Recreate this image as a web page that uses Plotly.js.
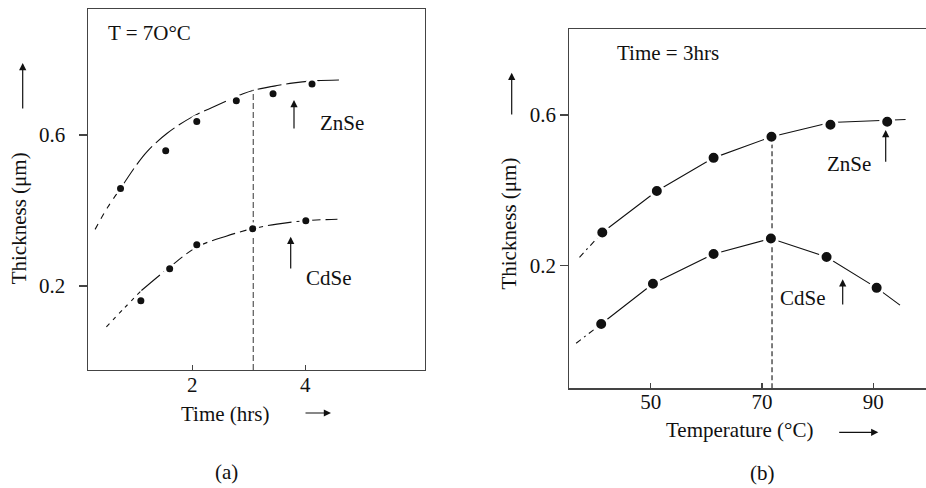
<!DOCTYPE html>
<html>
<head>
<meta charset="utf-8">
<script src="https://cdn.plot.ly/plotly-3.0.1.min.js"></script>
<style>html,body{margin:0;padding:0;background:#fff;}#chart{width:926px;height:488px;}</style>
</head>
<body>
<div id="chart"></div>
<script>
// ---------- Panel (a): thickness vs time at T = 70 °C ----------
const a_time_zn = [0.73, 1.53, 2.08, 2.78, 3.43, 4.12];
const a_thick_zn = [0.458, 0.558, 0.636, 0.691, 0.709, 0.735];
const a_time_cd = [1.09, 1.60, 2.08, 3.07, 4.01];
const a_thick_cd = [0.161, 0.246, 0.309, 0.352, 0.373];

// drawn trend curves
const a_fit_zn_ext_x = [0.28, 0.50, 0.73];
const a_fit_zn_ext_y = [0.350, 0.408, 0.458];
const a_fit_zn_x = [0.73, 1.0, 1.2, 1.55, 2.0, 2.4, 2.9, 3.1, 3.5, 3.8, 4.2, 4.65];
const a_fit_zn_y = [0.458, 0.518, 0.556, 0.604, 0.648, 0.676, 0.709, 0.719, 0.731, 0.738, 0.744, 0.746];
const a_fit_cd_ext_x = [0.48, 0.80, 1.10];
const a_fit_cd_ext_y = [0.092, 0.142, 0.188];
const a_fit_cd_x = [1.10, 1.60, 2.08, 2.6, 3.07, 3.5, 4.0, 4.57];
const a_fit_cd_y = [0.188, 0.250, 0.303, 0.332, 0.352, 0.364, 0.373, 0.377];
const a_vline_x = [3.08, 3.08];
const a_vline_y = [-0.0225, 0.720];

// ---------- Panel (b): thickness vs temperature at 3 hrs ----------
const b_temp_zn = [41.3, 51.1, 61.3, 71.7, 82.3, 92.5];
const b_thick_zn = [0.288, 0.398, 0.486, 0.542, 0.574, 0.582];
const b_temp_cd = [41.1, 50.4, 61.3, 71.6, 81.6, 90.6];
const b_thick_cd = [0.045, 0.152, 0.231, 0.272, 0.223, 0.141];

const b_fit_zn_ext_x = [37.2, 41.3];
const b_fit_zn_ext_y = [0.222, 0.288];
const b_fit_zn_x = [41.3, 51.1, 61.3, 71.7, 82.3, 92.5, 95.8];
const b_fit_zn_y = [0.288, 0.398, 0.486, 0.542, 0.580, 0.586, 0.588];
const b_fit_cd_ext_x = [36.6, 41.1];
const b_fit_cd_ext_y = [-0.006, 0.045];
const b_fit_cd_x = [41.1, 50.4, 61.3, 71.6, 81.6, 90.6, 94.8];
const b_fit_cd_y = [0.045, 0.152, 0.231, 0.272, 0.223, 0.141, 0.095];
const b_vline_x = [71.8, 71.8];
const b_vline_y = [-0.1256, 0.542];

// tick labels
const a_xticks = [2, 4];
const a_yticks = [0.2, 0.6];
const b_xticks = [50, 70, 90];
const b_yticks = [0.2, 0.6];

const INK = '#111';
const FONT = '"Liberation Serif", "Times New Roman", serif';

function line(x, y, xa, ya, dash, width, color, shape) {
  return {x: x, y: y, xaxis: xa, yaxis: ya, type: 'scatter', mode: 'lines',
    line: {color: color || INK, width: width || 1.1, dash: dash, shape: shape || 'linear', smoothing: 1},
    hoverinfo: 'skip'};
}
function dots(x, y, xa, ya, size) {
  return {x: x, y: y, xaxis: xa, yaxis: ya, type: 'scatter', mode: 'markers',
    marker: {color: INK, size: size, line: {color: '#fff', width: 3}}, hoverinfo: 'skip'};
}

const traces = [
  line(a_fit_zn_ext_x, a_fit_zn_ext_y, 'x', 'y', '6px,6px', 1.1, INK, 'spline'),
  line(a_fit_zn_x, a_fit_zn_y, 'x', 'y', '24px,5px', 1.1, INK, 'spline'),
  line(a_fit_cd_ext_x, a_fit_cd_ext_y, 'x', 'y', '4px,5px', 1.1, INK, 'spline'),
  line(a_fit_cd_x, a_fit_cd_y, 'x', 'y', '24px,5px', 1.1, INK, 'spline'),
  line(a_vline_x, a_vline_y, 'x', 'y', '6px,3px', 1.2, '#555'),
  dots(a_time_zn, a_thick_zn, 'x', 'y', 10),
  dots(a_time_cd, a_thick_cd, 'x', 'y', 10),
  line(b_fit_zn_ext_x, b_fit_zn_ext_y, 'x2', 'y2', '6px,4px,2px,4px'),
  line(b_fit_zn_x, b_fit_zn_y, 'x2', 'y2', 'solid'),
  line(b_fit_cd_ext_x, b_fit_cd_ext_y, 'x2', 'y2', '6px,4px,2px,4px'),
  line(b_fit_cd_x, b_fit_cd_y, 'x2', 'y2', 'solid'),
  line(b_vline_x, b_vline_y, 'x2', 'y2', '5px,3px', 1.1, INK),
  dots(b_temp_zn, b_thick_zn, 'x2', 'y2', 13),
  dots(b_temp_cd, b_thick_cd, 'x2', 'y2', 13)
];

const W = 926, H = 488;
const PX = x => x / W;
const PY = y => 1 - y / H;

function label(text, x, y) {
  return {text: text, x: PX(x), y: PY(y), xref: 'paper', yref: 'paper',
    xanchor: 'center', yanchor: 'middle', showarrow: false,
    font: {family: FONT, size: 21, color: INK}};
}
function arrow(hx, hy, tx, ty) {
  return {text: '', x: PX(hx), y: PY(hy), xref: 'paper', yref: 'paper',
    ax: tx - hx, ay: ty - hy, showarrow: true, arrowhead: 2, arrowsize: 1.2,
    arrowwidth: 1.2, arrowcolor: INK, standoff: 0, startstandoff: 0};
}
// y tick labels of panel (a), placed on the y scale
const aYTickLabels = a_yticks.map(v => ({
  text: v.toFixed(1), x: PX(67), y: v, xref: 'paper', yref: 'y',
  xanchor: 'right', yanchor: 'middle', showarrow: false,
  font: {family: FONT, size: 21, color: INK}
}));

const axBase = {showgrid: false, zeroline: false, showline: true, linecolor: '#444',
  linewidth: 1.2, tickcolor: '#444', tickwidth: 1.2, fixedrange: true,
  tickfont: {family: FONT, size: 21, color: INK}};

const layout = {
  width: W, height: H, margin: {l: 0, r: 0, t: 0, b: 0},
  paper_bgcolor: '#fff', plot_bgcolor: '#fff', showlegend: false, hovermode: false,
  xaxis: Object.assign({}, axBase, {domain: [PX(87.7), PX(425)], range: [0.149, 6.12],
    tickvals: a_xticks, ticktext: a_xticks.map(String), ticks: 'inside', ticklen: 5,
    ticklabelstandoff: -4, mirror: true, anchor: 'y'}),
  yaxis: Object.assign({}, axBase, {domain: [PY(370), PY(9.3)], range: [-0.0225, 0.933],
    tickvals: a_yticks, showticklabels: false, ticks: 'outside', ticklen: 8,
    mirror: true, anchor: 'x'}),
  xaxis2: Object.assign({}, axBase, {domain: [PX(569.3), 1], range: [35.37, 99.47],
    tickvals: b_xticks, ticktext: b_xticks.map(String), ticks: 'inside', ticklen: 5,
    ticklabelstandoff: -6, mirror: true, anchor: 'y2'}),
  yaxis2: Object.assign({}, axBase, {domain: [PY(388.3), PY(29)], range: [-0.1256, 0.828],
    tickvals: b_yticks, ticktext: b_yticks.map(v => v.toFixed(1)), ticks: 'outside', ticklen: 8,
    mirror: false, anchor: 'x2'}),
  annotations: aYTickLabels.concat([
    label('T = 7O°C', 149, 33),
    label('ZnSe', 341.7, 123.3),
    label('CdSe', 329, 278.3),
    label('Time (hrs)', 224.8, 414),
    label('(a)', 226.7, 471.7),
    Object.assign(label('Thickness (μm)', 19, 218.3), {textangle: -90}),
    arrow(22.7, 63, 22.7, 110),
    arrow(294, 100, 294, 130),
    arrow(290.7, 236.7, 290.7, 270),
    arrow(331, 413, 304, 413),
    label('Time = 3hrs', 667.5, 53.3),
    label('ZnSe', 849.2, 164.3),
    label('CdSe', 803, 297.7),
    label('Temperature (°C)', 739.7, 430),
    label('(b)', 762.3, 473.3),
    Object.assign(label('Thickness (μm)', 509.3, 223.3), {textangle: -90}),
    arrow(511.7, 72.7, 511.7, 116),
    arrow(885.7, 130, 885.7, 163.3),
    arrow(842.7, 279.3, 842.7, 306),
    arrow(878.3, 432.3, 837.7, 432.3)
  ])
};

Plotly.newPlot('chart', traces, layout, {staticPlot: true, displayModeBar: false});
</script>
</body>
</html>
